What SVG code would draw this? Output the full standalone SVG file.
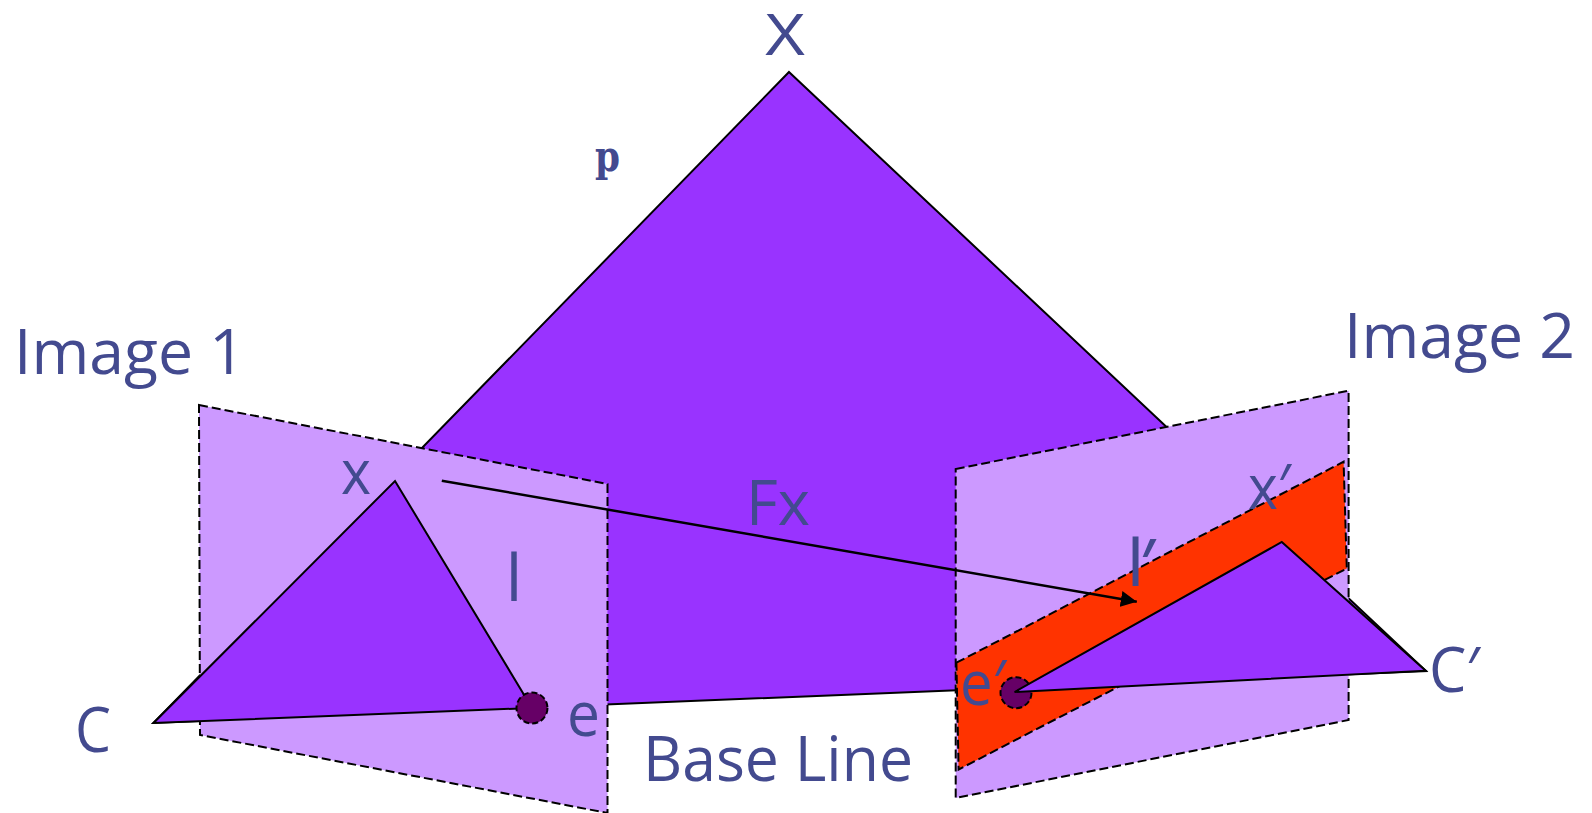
<svg xmlns="http://www.w3.org/2000/svg" width="1592" height="813" viewBox="0 0 1592 813">
<style>
text{font-family:"Open Sans","Noto Sans","DejaVu Sans",sans-serif;font-size:62px;fill:#434a8f}
.tri{fill:#9933ff;stroke:#000;stroke-width:2;stroke-linejoin:miter}
.plane{fill:#cc99ff;stroke:#000;stroke-width:2;stroke-dasharray:9 4}
.band{fill:#ff3300;stroke:#000;stroke-width:2;stroke-dasharray:9 4}
.dot{fill:#660066;stroke:#000;stroke-width:2;stroke-dasharray:6 3}
.stem{stroke:#434a8f;stroke-width:2}
</style>
<defs>
<marker id="arrow" markerUnits="userSpaceOnUse" markerWidth="18" markerHeight="16" refX="16" refY="8" orient="auto">
<path d="M0 0L16 8L0 16Z" fill="#000"/>
</marker>
</defs>
<g id="epipolar-plane"><polygon class="tri" points="789,72 1426,671 153.500,723"/></g>
<g id="image-1"><polygon class="plane" points="199,405 607.500,484 607.500,813 200,735"/></g>
<g id="image-2"><polygon class="plane" points="955.700,469 1348.600,390.700 1348.600,720 955.700,798"/></g>
<g id="epipolar-band"><polygon class="band" points="956.400,662.700 1343.600,461.700 1346.800,568.500 958.600,769.500"/></g>
<g id="epipole-e-prime"><circle class="dot" cx="1016" cy="692.700" r="15.500"/></g>
<g id="triangle-1"><polygon class="tri" points="395,481 532,708 153.500,723"/></g>
<g id="triangle-2"><polygon class="tri" points="1281.800,542 1425.700,670.700 1014.600,692"/></g>
<g id="epipole-e"><circle class="dot" cx="532" cy="708" r="15.500"/></g>
<g id="connectors"><line x1="441.800" y1="480.700" x2="1136.800" y2="601.700" stroke="#000" stroke-width="2.500" marker-end="url(#arrow)"/></g>
<g id="labels">
<text x="764" y="55" textLength="42" lengthAdjust="spacingAndGlyphs" style="font-family:'Liberation Sans',sans-serif;font-size:60px">X</text>
<text x="595" y="171" textLength="25" lengthAdjust="spacingAndGlyphs" style="font-family:'DejaVu Serif',serif;font-weight:bold;font-size:43px">p</text>
<text x="14" y="374" textLength="231" lengthAdjust="spacingAndGlyphs">Image 1</text>
<text x="1344" y="358" textLength="231" lengthAdjust="spacingAndGlyphs">Image 2</text>
<text x="341" y="494" textLength="30" lengthAdjust="spacingAndGlyphs">x</text>
<text class="stem" x="508" y="600" textLength="12" lengthAdjust="spacingAndGlyphs">l</text>
<text x="567" y="736" textLength="33" lengthAdjust="spacingAndGlyphs">e</text>
<text x="75" y="752" textLength="36" lengthAdjust="spacingAndGlyphs">C</text>
<text x="643" y="781" textLength="270" lengthAdjust="spacingAndGlyphs">Base Line</text>
<text x="746" y="525" textLength="64" lengthAdjust="spacingAndGlyphs">Fx</text>
<text x="1248" y="509" textLength="43" lengthAdjust="spacingAndGlyphs">x′</text>
<text class="stem" x="1129" y="585" textLength="25" lengthAdjust="spacingAndGlyphs">l′</text>
<text x="960" y="705" textLength="46" lengthAdjust="spacingAndGlyphs">e′</text>
<text x="1429" y="692" textLength="51" lengthAdjust="spacingAndGlyphs">C′</text>
</g>
</svg>
